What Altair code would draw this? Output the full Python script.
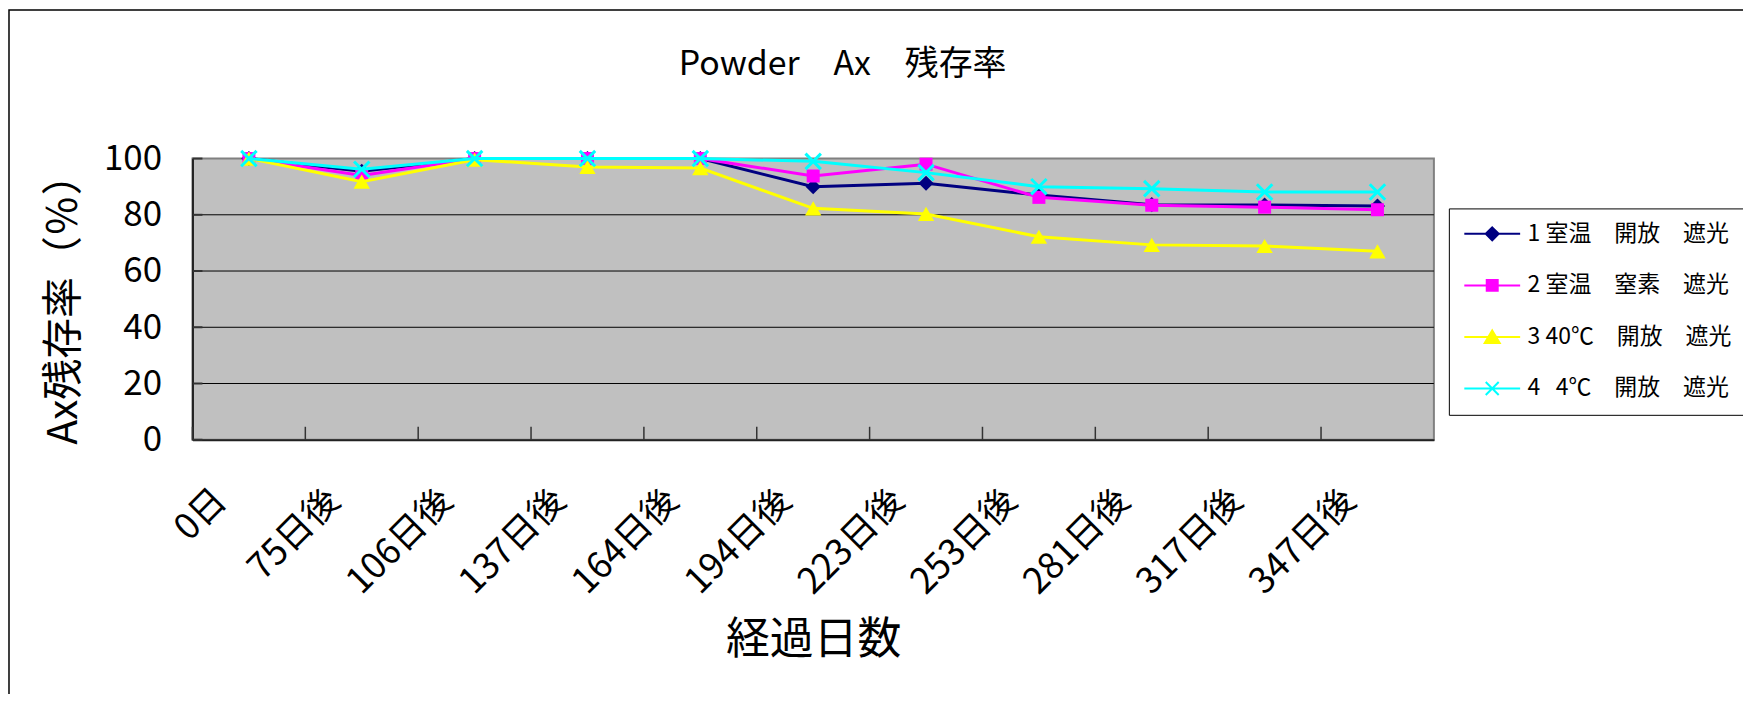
import altair as alt
import pandas as pd

FONT = "Noto Sans CJK JP"

title_text = "Powder\u3000Ax\u3000残存率"
x_title = "経過日数"
y_title = "Ax残存率（％）"

categories = ["0日", "75日後", "106日後", "137日後", "164日後", "194日後",
              "223日後", "253日後", "281日後", "317日後", "347日後"]

series_names = [
    "1 室温\u3000開放\u3000遮光",
    "2 室温\u3000窒素\u3000遮光",
    "3 40℃\u3000開放\u3000遮光",
    "4\u00a0\u00a0\u00a04℃\u3000開放\u3000遮光",
]

s1 = [100, 95.5, 100, 100, 100, 90.0, 91.2, 87.0, 83.6, 83.5, 83.1]
s2 = [100, 94.0, 100, 100, 100, 93.8, 98.0, 86.2, 83.4, 82.7, 81.8]
s3 = [100, 91.8, 99.6, 97.0, 96.6, 82.3, 80.3, 72.2, 69.3, 68.9, 67.0]
s4 = [100, 96.2, 100, 100, 100, 99.0, 95.0, 90.0, 89.3, 88.1, 88.1]

y_ticks = [0, 20, 40, 60, 80, 100]
y_grid = [20, 40, 60, 80]

colors = ["#000080", "#FF00FF", "#FFFF00", "#00FFFF"]
X_PATH = "M-1,-1L1,1M-1,1L1,-1"
marker_shapes = ["diamond", "square", "triangle-up", X_PATH]
marker_sizes = [230, 170, 270, 240]
marker_filled = [True, True, True, False]

# legend symbols: a line with the marker in its middle
legend_paths = [
    "M-1,0L4.6,0M1.8,-0.65L2.45,0L1.8,0.65L1.15,0Z",
    "M-1,0L4.6,0M1.25,-0.55L2.35,-0.55L2.35,0.55L1.25,0.55Z",
    "M-1,0L4.6,0M1.8,-0.65L2.55,0.6L1.05,0.6Z",
    "M-1,0L4.6,0M1.15,-0.65L2.45,0.65M1.15,0.65L2.45,-0.65",
]

rows = []
for name, vals in zip(series_names, [s1, s2, s3, s4]):
    for c, v in zip(categories, vals):
        rows.append({"cat": c, "series": name, "v": v})
df = pd.DataFrame(rows)

W, H = 1245, 282

x_scale = alt.Scale(type="band", domain=categories, paddingInner=0, paddingOuter=0)
y_scale = alt.Scale(domain=[0, 100], nice=False, zero=True)

x_axis = alt.Axis(
    title=x_title, ticks=False, grid=False, labelAngle=315, labelAlign="right",
    labelBaseline="middle", labelPadding=55, labelOffset=-28, labelFontSize=36,
    labelOverlap=False, domainColor="#222", domainWidth=2,
    titleFontSize=44, titleX=W / 2, titleY=201, titleAlign="center",
    titleBaseline="middle", titleAngle=0,
)
y_axis = alt.Axis(
    title=y_title, values=y_ticks, ticks=False, grid=False, labelPadding=31,
    labelFontSize=35, labelAlign="right", labelBaseline="middle",
    domainColor="#222", domainWidth=2,
    titleFontSize=41, titleX=-128, titleY=H / 2, titleAngle=270,
    titleAlign="center", titleBaseline="middle",
)

def X(bp=0.5):
    return alt.X("cat:N", scale=x_scale, axis=x_axis, bandPosition=bp)

Y = alt.Y("v:Q", scale=y_scale, axis=y_axis)

layers = []

# horizontal gridlines
layers.append(
    alt.Chart(pd.DataFrame({"v": y_grid})).mark_rule(color="#000", strokeWidth=1)
    .encode(y=Y, x=alt.value(0), x2=alt.value(W))
)
# inward ticks on the y axis
layers.append(
    alt.Chart(pd.DataFrame({"v": y_ticks})).mark_rule(color="#333", strokeWidth=2)
    .encode(y=Y, x=alt.value(0), x2=alt.value(10))
)
# inward ticks on the x axis (between categories)
layers.append(
    alt.Chart(pd.DataFrame({"cat": categories})).mark_rule(color="#333", strokeWidth=1.5)
    .encode(x=X(0), y=alt.value(H - 13), y2=alt.value(H))
)

for i, name in enumerate(series_names):
    sub = alt.Chart(df).transform_filter(alt.datum.series == name)
    layers.append(
        sub.mark_line(color=colors[i], strokeWidth=3).encode(x=X(), y=Y)
    )
    layers.append(
        sub.mark_point(
            shape=marker_shapes[i], size=marker_sizes[i], filled=marker_filled[i],
            color=colors[i], opacity=1, strokeWidth=3 if not marker_filled[i] else 1,
        ).encode(x=X(), y=Y)
    )

# legend-only layer (no data drawn)
leg = alt.Legend(
    orient="none", legendX=1260, legendY=50, title=None, padding=14,
    strokeColor="#000", fillColor="#fff", labelFontSize=23, labelFont=FONT,
    symbolSize=400, symbolStrokeWidth=2, labelOffset=42, rowPadding=27.7,
    labelLimit=500, labelColor="#000",
)
layers.append(
    alt.Chart(df).transform_filter("datum.v < 0")
    .mark_point(filled=True, size=400, opacity=1, strokeWidth=2)
    .encode(
        x=X(), y=Y,
        fill=alt.Fill("series:N", scale=alt.Scale(domain=series_names, range=colors), legend=leg),
        stroke=alt.Stroke("series:N", scale=alt.Scale(domain=series_names, range=colors), legend=leg),
        shape=alt.Shape("series:N", scale=alt.Scale(domain=series_names, range=legend_paths), legend=leg),
    )
)

# chart title
layers.append(
    alt.Chart(pd.DataFrame({"t": [title_text]})).mark_text(
        font=FONT, fontSize=34, align="center", baseline="middle", color="#000"
    ).encode(text="t:N", x=alt.value(652), y=alt.value(-94))
)

# outer chart-area border
layers.append(
    alt.Chart(pd.DataFrame({"b": [1]})).mark_rect(
        fillOpacity=0, stroke="#000", strokeWidth=1.5
    ).encode(x=alt.value(-184), x2=alt.value(3000), y=alt.value(-149), y2=alt.value(3000))
)

chart = (
    alt.layer(*layers)
    .properties(
        width=W, height=H, autosize="none",
        padding={"left": 185, "top": 150, "right": 310, "bottom": 254},
        background="#ffffff",
    )
    .configure_view(fill="#C0C0C0", stroke="#808080", strokeWidth=2)
    .configure_axis(labelFont=FONT, titleFont=FONT, labelColor="#000",
                    titleColor="#000", titleFontWeight="normal")
    .configure_text(font=FONT)
)

chart.save("out.html", embed_options={"renderer": "svg", "actions": False})
